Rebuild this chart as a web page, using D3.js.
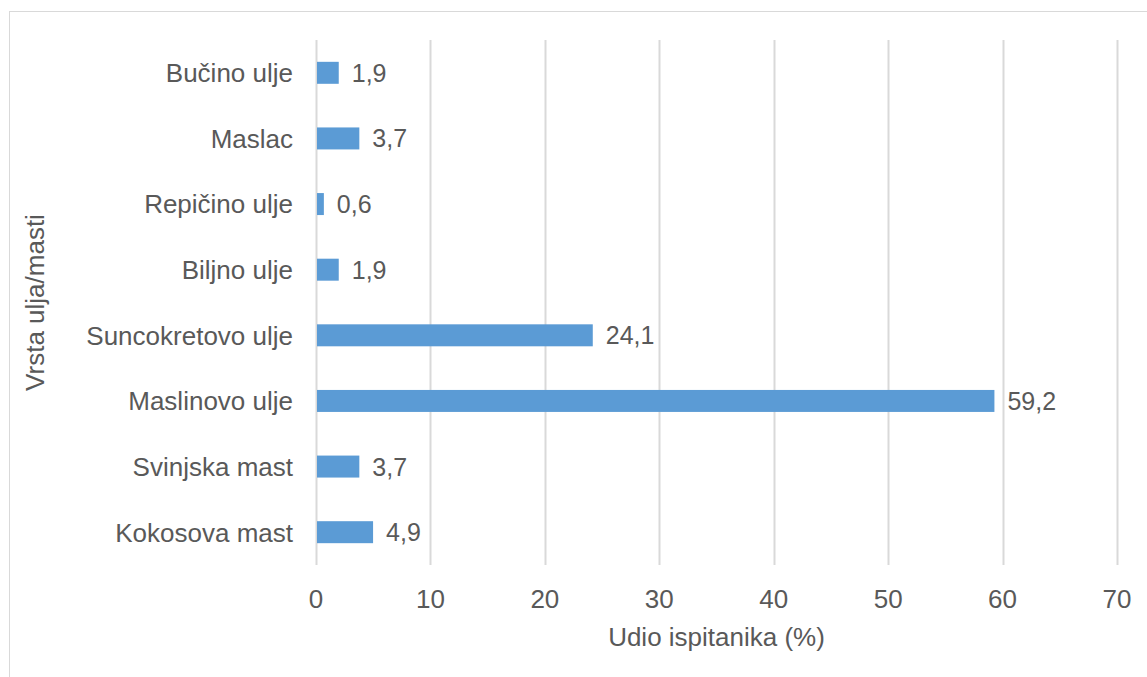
<html>
<head>
<meta charset="utf-8">
<script src="https://d3js.org/d3.v7.min.js"></script>
<style>
body { margin: 0; background: #fff; }
text { font-family: "Liberation Sans", Arial, sans-serif; fill: #595959; }
</style>
</head>
<body>
<svg id="chart" width="1147" height="677"></svg>
<script>
// chart data
var categories = ["Bučino ulje", "Maslac", "Repičino ulje", "Biljno ulje",
                  "Suncokretovo ulje", "Maslinovo ulje", "Svinjska mast", "Kokosova mast"];
var values = [1.9, 3.7, 0.6, 1.9, 24.1, 59.2, 3.7, 4.9];
var xTicks = [0, 10, 20, 30, 40, 50, 60, 70];

var svg = d3.select("#chart");

// outer chart border
svg.append("rect")
   .attr("x", 9.5).attr("y", 11.5)
   .attr("width", 1160).attr("height", 700)
   .style("fill", "none")
   .style("stroke", "#D9D9D9");

var plotLeft = 316, plotRight = 1117, plotTop = 40, plotBottom = 565;
var fontSize = "26px";

var x = d3.scaleLinear().domain([0, 70]).range([plotLeft, plotRight]);
var y = d3.scaleBand().domain(categories).range([plotTop, plotBottom])
          .paddingInner(0.665).paddingOuter(0.3325);

// gridlines
svg.selectAll("line.grid")
   .data(xTicks)
   .enter().append("line")
      .attr("class", "grid")
      .attr("x1", function(d) { return Math.round(x(d)) + 0.5; })
      .attr("x2", function(d) { return Math.round(x(d)) + 0.5; })
      .attr("y1", plotTop)
      .attr("y2", plotBottom)
      .style("stroke", "#D9D9D9")
      .style("stroke-width", 2);

// bars
svg.selectAll("rect.bar")
   .data(categories)
   .enter().append("rect")
      .attr("class", "bar")
      .attr("x", x(0) + 1)
      .attr("y", function(d) { return y(d); })
      .attr("width", function(d, i) { return x(values[i]) - x(0); })
      .attr("height", y.bandwidth())
      .style("fill", "#5B9BD5");

// value labels
svg.selectAll("text.val")
   .data(categories)
   .enter().append("text")
      .attr("class", "val")
      .attr("x", function(d, i) { return x(values[i]) + 14; })
      .attr("y", function(d) { return y(d) + y.bandwidth() / 2; })
      .attr("dy", "0.36em")
      .style("font-size", "25px")
      .text(function(d, i) { return String(values[i]).replace(".", ","); });

// category labels
svg.selectAll("text.cat")
   .data(categories)
   .enter().append("text")
      .attr("class", "cat")
      .attr("x", plotLeft - 23)
      .attr("y", function(d) { return y(d) + y.bandwidth() / 2; })
      .attr("dy", "0.36em")
      .attr("text-anchor", "end")
      .style("font-size", fontSize)
      .text(function(d) { return d; });

// x tick labels
svg.selectAll("text.tick")
   .data(xTicks)
   .enter().append("text")
      .attr("class", "tick")
      .attr("x", function(d) { return x(d); })
      .attr("y", 608)
      .attr("text-anchor", "middle")
      .style("font-size", fontSize)
      .text(function(d) { return d; });

// axis titles
svg.append("text")
   .attr("x", (plotLeft + plotRight) / 2)
   .attr("y", 646)
   .attr("text-anchor", "middle")
   .style("font-size", fontSize)
   .text("Udio ispitanika (%)");

svg.append("text")
   .attr("transform", "translate(44," + ((plotTop + plotBottom) / 2) + ") rotate(-90)")
   .attr("text-anchor", "middle")
   .style("font-size", fontSize)
   .text("Vrsta ulja/masti");
</script>
</body>
</html>
